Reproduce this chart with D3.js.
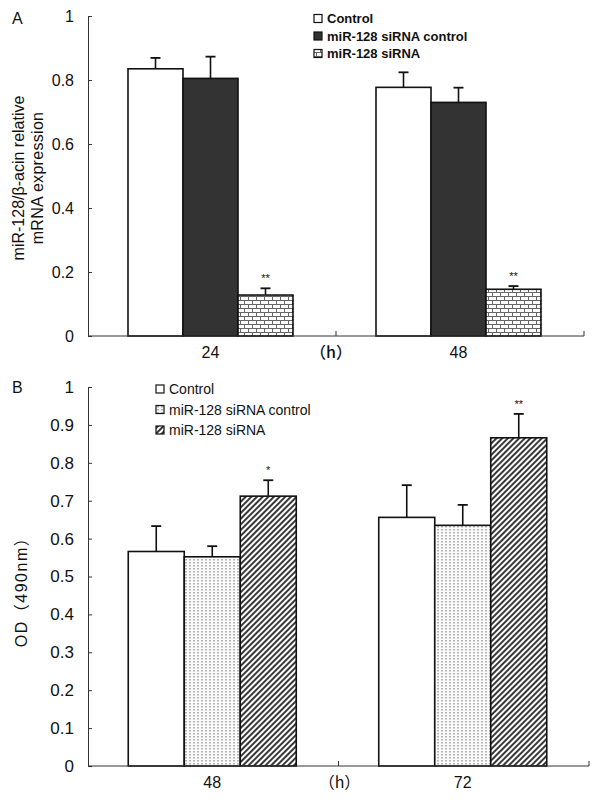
<!DOCTYPE html>
<html><head><meta charset="utf-8">
<script src="https://cdn.jsdelivr.net/npm/d3@7"></script>
<style>
html,body{margin:0;padding:0;background:#fff;}
svg{display:block;}
text{font-family:"Liberation Sans",Arial,"Noto Sans CJK SC",sans-serif;fill:#111;}
</style></head>
<body>
<svg id="c" width="598" height="800"></svg>
<script>
// ---------- DATA ----------
const seriesA = ["Control", "miR-128 siRNA control", "miR-128 siRNA"];
const catsA = ["24", "48"];
const valuesA = [[0.835, 0.805, 0.128], [0.777, 0.730, 0.146]];
const errorsA = [[0.034, 0.068, 0.021], [0.047, 0.046, 0.010]];
const starsA = [["", "", "**"], ["", "", "**"]];
const ticksA = [0, 0.2, 0.4, 0.6, 0.8, 1];

const seriesB = ["Control", "miR-128 siRNA control", "miR-128 siRNA"];
const catsB = ["48", "72"];
const valuesB = [[0.566, 0.552, 0.712], [0.656, 0.635, 0.866]];
const errorsB = [[0.067, 0.028, 0.042], [0.085, 0.054, 0.063]];
const starsB = [["", "", "*"], ["", "", "**"]];
const ticksB = [0, 0.1, 0.2, 0.3, 0.4, 0.5, 0.6, 0.7, 0.8, 0.9, 1];

const svg = d3.select("#c");
const defs = svg.append("defs");

// brick pattern
const brick = defs.append("pattern").attr("id", "brick").attr("patternUnits", "userSpaceOnUse")
  .attr("width", 8).attr("height", 8);
brick.append("rect").attr("width", 8).attr("height", 8).attr("fill", "#fff");
brick.append("path").attr("d", "M0,0.5H8M0,4.5H8M0.5,0.5V4.5M4.5,4.5V8.5")
  .attr("stroke", "#666").attr("stroke-width", 1).attr("fill", "none");
// dotted pattern
const dots = defs.append("pattern").attr("id", "dots").attr("patternUnits", "userSpaceOnUse")
  .attr("width", 4).attr("height", 3);
dots.append("rect").attr("width", 4).attr("height", 3).attr("fill", "#fafafa");
dots.append("rect").attr("x", 1).attr("y", 1).attr("width", 2).attr("height", 1.5).attr("fill", "#b5b5b5");
// hatch pattern
const hatch = defs.append("pattern").attr("id", "hatch").attr("patternUnits", "userSpaceOnUse")
  .attr("width", 4).attr("height", 10).attr("patternTransform", "rotate(45)");
hatch.append("rect").attr("width", 4).attr("height", 10).attr("fill", "#fff");
hatch.append("line").attr("x1", 1).attr("x2", 1).attr("y1", 0).attr("y2", 10)
  .attr("stroke", "#222").attr("stroke-width", 1.8);

function panel(o) {
  const g = svg.append("g");
  const y = d3.scaleLinear().domain([0, 1]).range([o.y0, o.y1]);
  const x = d3.scaleBand().domain(o.cats).range([o.x0, o.x1]).padding(0);
  const inner = d3.scaleBand().domain(o.series).range([0, o.groupW]);

  // y axis
  const ya = d3.axisLeft(y).tickValues(o.ticks).tickSizeInner(-4).tickSizeOuter(0).tickPadding(14)
    .tickFormat(d => (d === 0 || d === 1) ? String(d) : d.toFixed(1));
  const yg = g.append("g").attr("transform", `translate(${o.x0},0)`).call(ya);
  yg.select(".domain").attr("stroke", "#333");
  yg.selectAll(".tick line").attr("stroke", "#333");
  yg.selectAll("text").attr("font-size", o.tickFont).attr("fill", "#111")
    .style("font-family", "Liberation Sans, Arial, sans-serif");

  // bars
  o.cats.forEach((c, ci) => {
    const gx = x(c) + x.bandwidth() / 2 - o.groupW / 2 + o.shift;
    o.series.forEach((s, si) => {
      const v = o.values[ci][si], e = o.errors[ci][si];
      const bx = gx + inner(s), bw = inner.bandwidth();
      const cx = bx + bw / 2;
      g.append("line").attr("x1", cx).attr("x2", cx).attr("y1", y(v)).attr("y2", y(v + e))
        .attr("stroke", "#111").attr("stroke-width", 1.6);
      g.append("line").attr("x1", cx - 5).attr("x2", cx + 5).attr("y1", y(v + e)).attr("y2", y(v + e))
        .attr("stroke", "#111").attr("stroke-width", 1.8);
      g.append("rect").attr("x", bx).attr("y", y(v)).attr("width", bw).attr("height", y(0) - y(v))
        .attr("fill", o.fills[si]).attr("stroke", "#111").attr("stroke-width", 1.6);
      const st = o.stars[ci][si];
      if (st) {
        g.append("text").attr("x", cx).attr("y", y(v + e) - 6).attr("text-anchor", "middle")
          .attr("font-size", 11).attr("fill", "#777").text(st);
      }
    });
  });

  // x axis
  g.append("line").attr("x1", o.x0).attr("x2", o.x1).attr("y1", y(0)).attr("y2", y(0))
    .attr("stroke", "#333").attr("stroke-width", 1);
  o.cats.forEach(c => {
    const bx = x(c) + x.bandwidth();
    g.append("line").attr("x1", bx).attr("x2", bx).attr("y1", y(0)).attr("y2", y(0) - 5)
      .attr("stroke", "#333");
    g.append("text").attr("x", x(c) + x.bandwidth() / 2 + o.shift).attr("y", y(0) + 22)
      .attr("text-anchor", "middle").attr("font-size", 16).text(c);
  });
  g.append("text").attr("x", x(o.cats[1]) + o.hShift).attr("y", y(0) + 22).attr("text-anchor", "middle")
    .attr("font-size", 16).attr("font-weight", o.hWeight)
    .style("font-family", "Noto Sans CJK SC, sans-serif").text("（h）");

  // panel letter
  g.append("text").attr("x", 12).attr("y", o.letterY).attr("font-size", 16).text(o.letter);

  // legend
  o.series.forEach((s, si) => {
    const ly = o.legY + si * o.legStep;
    g.append("rect").attr("x", o.legX).attr("y", ly - 4).attr("width", 8).attr("height", 8)
      .attr("fill", o.fills[si]).attr("stroke", "#111").attr("stroke-width", 1.2);
    g.append("text").attr("x", o.legX + 13).attr("y", ly).attr("dy", "0.36em")
      .attr("font-size", o.legFont).attr("font-weight", o.legWeight).text(s);
  });

  // y title
  o.ytitle.forEach((t, i) => {
    g.append("text").attr("transform", `translate(${o.ytX[i]},${o.ytY}) rotate(-90)`)
      .attr("text-anchor", "middle").attr("dy", "0.35em").attr("font-size", o.ytFont)
      .attr("letter-spacing", o.ytLS[i]).text(t);
  });
}

panel({
  cats: catsA, series: seriesA, values: valuesA, errors: errorsA, stars: starsA, ticks: ticksA,
  x0: 88, x1: 584, y0: 336, y1: 16, groupW: 165, shift: -1.5, hShift: -5, hWeight: "500",
  fills: ["#fff", "#333", "url(#brick)"],
  tickFont: 16,
  letter: "A", letterY: 24,
  legX: 314, legY: 18.5, legStep: 17.5, legFont: 13, legWeight: "bold",
  ytitle: ["miR-128/β-acin relative", "mRNA expression"], ytX: [18, 37], ytY: 178, ytFont: 16, ytLS: [0, 0.3]
});

panel({
  cats: catsB, series: seriesB, values: valuesB, errors: errorsB, stars: starsB, ticks: ticksB,
  x0: 88, x1: 589, y0: 766, y1: 387, groupW: 168, shift: -1, hShift: 1, hWeight: "normal",
  fills: ["#fff", "url(#dots)", "url(#hatch)"],
  tickFont: 17,
  letter: "B", letterY: 393,
  legX: 156, legY: 389, legStep: 20.5, legFont: 14, legWeight: "normal",
  ytitle: ["OD（490nm）"], ytX: [21], ytY: 588, ytFont: 16, ytLS: [1.5]
});
</script>
</body></html>
